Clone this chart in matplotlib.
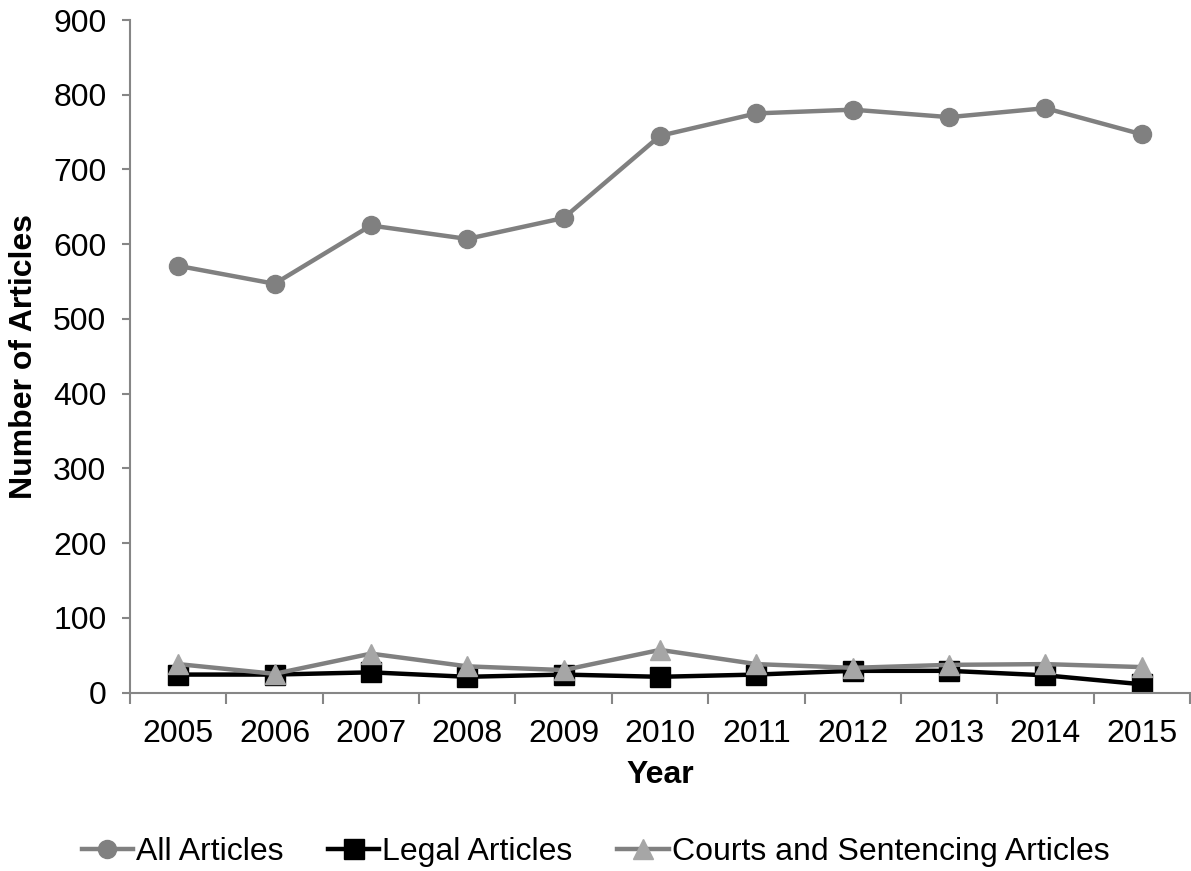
import numpy as np
import matplotlib.pyplot as plt
from matplotlib.ticker import FixedLocator, NullFormatter

plt.rcParams['font.family'] = ['Liberation Sans', 'DejaVu Sans']

# Article counts per year
years = ['2005', '2006', '2007', '2008', '2009', '2010',
         '2011', '2012', '2013', '2014', '2015']
all_articles = [571, 547, 625, 607, 635, 745, 775, 780, 770, 782, 747]
legal_articles = [24, 24, 27, 21, 24, 21, 24, 29, 29, 23, 11]
courts_articles = [38, 25, 52, 35, 30, 57, 38, 33, 37, 38, 34]

axis_grey = '#868686'

fig = plt.figure(figsize=(11.91, 8.71), dpi=100)
ax = fig.add_axes([130/1191, 1 - 692.5/871, 1060/1191, 672.5/871])

x = np.arange(len(years))
ax.plot(x, all_articles, color='#808080', lw=3.2, marker='o', ms=13,
        label='All Articles')
ax.plot(x, legal_articles, color='black', lw=3.2, marker='s', ms=14,
        label='Legal Articles')
ax.plot(x, courts_articles, color='#808080', lw=3.2, marker='^', ms=14,
        mfc='#A6A6A6', mec='#A6A6A6', label='Courts and Sentencing Articles')

ax.set_xlim(-0.5, len(years) - 0.5)
ax.set_ylim(0, 900)
ax.set_yticks(np.arange(0, 901, 100))

# category labels sit between tick marks
ax.set_xticks(x)
ax.set_xticklabels(years)
ax.xaxis.set_minor_locator(FixedLocator(np.arange(-0.5, len(years), 1.0)))
ax.xaxis.set_minor_formatter(NullFormatter())
ax.tick_params(axis='x', which='major', length=0, pad=19, labelsize=23)
ax.tick_params(axis='x', which='minor', length=8, width=1.5, color=axis_grey)
ax.tick_params(axis='y', length=6, width=1.5, color=axis_grey, pad=11,
               labelsize=23)

for side in ['top', 'right']:
    ax.spines[side].set_visible(False)
for side in ['left', 'bottom']:
    ax.spines[side].set_color(axis_grey)
    ax.spines[side].set_linewidth(1.5)

ax.set_xlabel('Year', fontsize=23, fontweight='bold', va='center')
ax.xaxis.set_label_coords(0.5, (692.5 - 775) / 672.5)
ax.set_ylabel('Number of Articles', fontsize=23, fontweight='bold', va='center')
ax.yaxis.set_label_coords((24 - 130) / 1060, 0.5)

fig.legend(loc='center', bbox_to_anchor=(0.5, 1 - 852/871), ncol=3,
           frameon=False, fontsize=23, handlelength=1.6, handletextpad=0.1,
           columnspacing=1.4)

fig.savefig('out.png', dpi=100)
